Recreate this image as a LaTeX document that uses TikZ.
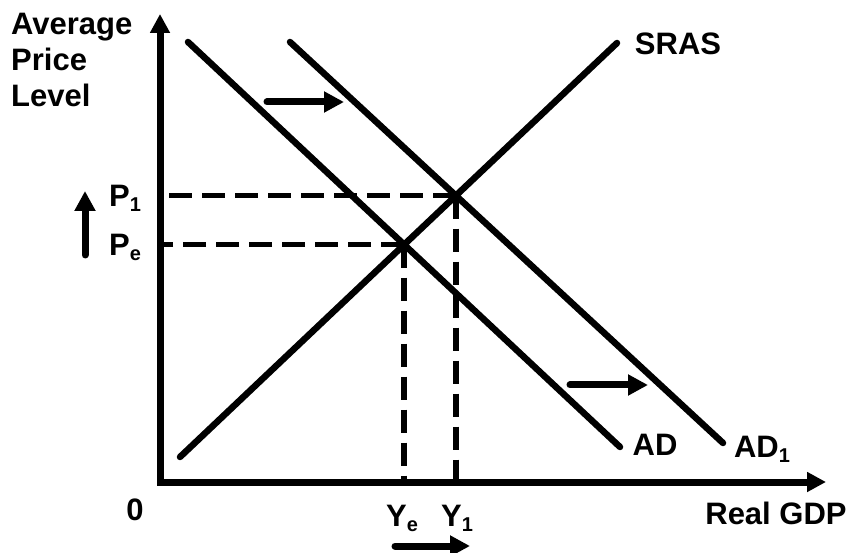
\documentclass[tikz,border=0pt]{standalone}
\usepackage{fontspec}
\setmainfont{Liberation Sans}
\usetikzlibrary{arrows.meta}

\newcommand\lowidx[1]{\raisebox{-5pt}{\fontsize{20}{20}\selectfont #1}}

\begin{document}
\begin{tikzpicture}[
            x=1pt, y=-1pt,
                axis/.style={line width=7pt, {Triangle[length=19pt, width=19pt]}-{Triangle[length=19pt, width=19pt]}},
                curve/.style={line width=6.5pt, line cap=round},
                guide/.style={line width=5.5pt, dash pattern=on 23pt off 10pt},
                shift_arrow/.style={line width=7pt, line cap=round, -{Triangle[length=20pt, width=20pt]}},
                lbl/.style={font=\fontsize{31}{36}\selectfont\bfseries, inner sep=0pt}
            ]
              \useasboundingbox (0,0) rectangle (852,553);

              % axes
              \coordinate (origin) at (160,482);
              \coordinate (y_top) at (160,14);
              \coordinate (x_end) at (826,482);
              \draw[axis] (y_top) -- (origin) -- (x_end);

              % curve end points
              \coordinate (sras_lo) at (180,457);
              \coordinate (sras_hi) at (617,43);
              \coordinate (ad_hi) at (188,42);
              \coordinate (ad_lo) at (620,447);
              \coordinate (ad1_hi) at (290,42);
              \coordinate (ad1_lo) at (723,443);

              \draw[curve] (sras_lo) -- (sras_hi);
              \draw[curve] (ad_hi) -- (ad_lo);
              \draw[curve] (ad1_hi) -- (ad1_lo);

              % equilibria
              \coordinate (eq_e) at (intersection of sras_lo--sras_hi and ad_hi--ad_lo);
              \coordinate (eq_1) at (intersection of sras_lo--sras_hi and ad1_hi--ad1_lo);

              \draw[guide] (eq_1) -- (eq_1 -| origin);
              \draw[guide] (eq_e) -- (eq_e -| origin);
              \draw[guide] (eq_1) -- (eq_1 |- origin);
              \draw[guide] (eq_e) -- (eq_e |- origin);

              % shift arrows
              \coordinate (top_shift_a) at (267,102);
              \coordinate (top_shift_b) at (344,102);
              \coordinate (low_shift_a) at (570,385);
              \coordinate (low_shift_b) at (648,385);
              \coordinate (y_shift_a) at (395,546);
              \coordinate (y_shift_b) at (470,546);
              \coordinate (p_shift_a) at (85,255);
              \coordinate (p_shift_b) at (85,191);
              \draw[shift_arrow] (top_shift_a) -- (top_shift_b);
              \draw[shift_arrow] (low_shift_a) -- (low_shift_b);
              \draw[shift_arrow] (y_shift_a) -- (y_shift_b);
              \draw[shift_arrow] (p_shift_a) -- (p_shift_b);

              % labels
              \node[lbl, align=left, anchor=north west] (price_lbl) at (11,13) {Average\\Price\\Level};
              \node[lbl] (p1_lbl) at (125,198) {P\lowidx{1}};
              \node[lbl] (pe_lbl) at (125,247) {P\lowidx{e}};
              \node[lbl] (ye_lbl) at (402,518) {Y\lowidx{e}};
              \node[lbl] (y1_lbl) at (457,518) {Y\lowidx{1}};
              \node[lbl] (zero_lbl) at (135,510) {0};
              \node[lbl] (gdp_lbl) at (776,513) {Real GDP};
              \node[lbl] (ad_lbl) at (655,445) {AD};
              \node[lbl] (ad1_lbl) at (762,449) {AD\lowidx{1}};
              \node[lbl] (sras_lbl) at (678,44) {SRAS};
            \end{tikzpicture}
\end{document}
